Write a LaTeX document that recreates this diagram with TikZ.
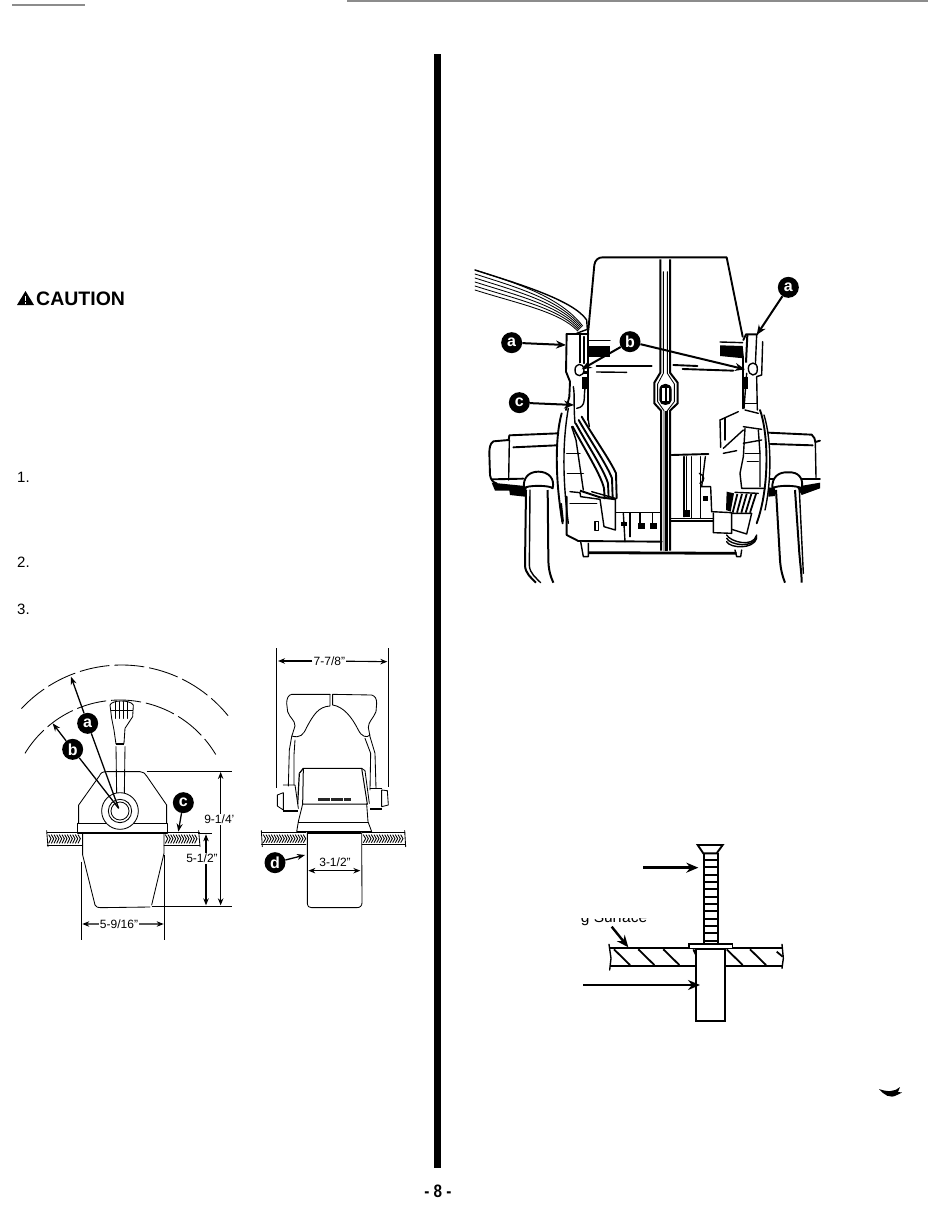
\documentclass[tikz,border=0pt]{standalone}
\usepackage{fontspec}
\setmainfont{Liberation Sans}
\usetikzlibrary{arrows.meta}
\tikzset{
  ln/.style={line width=1.4pt,line cap=round,line join=round},
  mid/.style={line width=1.9pt,line cap=round,line join=round},
  thn/.style={line width=.85pt,line cap=round,line join=round},
  hvy/.style={line width=2.6pt},
  callout/.style={circle,fill=black,text=white,inner sep=0pt,minimum size=21pt,font=\bfseries\fontsize{16}{16}\selectfont},
  lead/.style={line width=2pt,-{Stealth[length=10pt,width=8pt]}},
  leadplain/.style={line width=1.3pt},
  leadtip/.style={line width=1.3pt,-{Stealth[length=8pt,width=6pt]}},
  dimhalf/.style={line width=1.1pt,-{Stealth[length=7pt,width=5.5pt]}},
  dim/.style={line width=1.1pt,{Stealth[length=7pt,width=5.5pt]}-{Stealth[length=7pt,width=5.5pt]}},
  dimtxt/.style={fill=white,inner sep=1pt,font=\fontsize{12}{12}\selectfont},
  bigarrow/.style={line width=2.4pt,-{Stealth[length=12pt,width=10pt]}},
  arcdash/.style={line width=.85pt,dash pattern=on 30pt off 5pt},
  stepno/.style={font=\fontsize{15}{15}\selectfont,inner sep=0pt,anchor=west},
}
\begin{document}
\begin{tikzpicture}[x=1pt,y=-1pt]
\useasboundingbox (0,0) rectangle (950,1225);
\fill[white] (0,0) rectangle (950,1225);
% page furniture
\draw[line width=1.5pt,black!45] (12,5) -- (85,5);
\draw[line width=2pt,black!45] (347,1) -- (928,1);
\fill[black] (434,54) rectangle (441,1168);
\node[font=\bfseries\fontsize{18}{18}\selectfont,xscale=.85] (pg) at (438,1191) {- 8 -};
\fill[black] (879,1089) .. controls (887,1092) and (895,1092) .. (900,1087) -- (898,1092) -- (902,1092.5) -- (897,1095) .. controls (890,1099) and (884,1095) .. (879,1089) -- cycle;
% caution
\fill[black] (17,305) -- (25.5,291) -- (34,305) -- cycle;
\fill[white] (24.7,296) rectangle (26.3,301);
\fill[white] (24.7,302) rectangle (26.3,303.6);
\node[font=\bfseries\fontsize{19.5}{20}\selectfont,inner sep=0pt,anchor=west] (caution) at (36,299) {CAUTION};
\node[stepno] (s1) at (17,477) {1.};
\node[stepno] (s2) at (17,562) {2.};
\node[stepno] (s3) at (17,609) {3.};

%% ---------- upper right figure
\begin{scope}[shift={(460,240)},scale=1/3]
  % wires
  \foreach \d in {0,1,2,3,4,5}
    \draw[thn] (45,{90+\d*12}) .. controls (170,{130+\d*12}) and (300,{170+\d*9}) .. ({368-\d*3},{258+\d*3}) ;
  \draw[ln] (45,90) .. controls (170,130) and (340,180) .. (380,240) -- (382,268) -- (350,280);
  % housing
  \draw[mid] (385,270) -- (403,75) .. controls (405,60) and (415,52) .. (428,52) -- (800,52) -- (848,290);
  \draw[mid] (385,270) -- (385,540);
  \draw[ln] (385,540) -- (388,560);
  \draw[mid] (850,350) -- (850,505);
  % black pads
  \fill (385,318) rectangle (450,350);
  \fill (780,316) -- (848,318) -- (852,355) -- (780,348) -- cycle;
  \draw[ln] (385,302) -- (450,302); \draw[ln] (780,306) -- (848,308);
  % centre strip
  \draw[line width=2pt] (601,58) -- (601,398) -- (583,428) -- (583,490) -- (603,512) -- (603,932);
  \draw[line width=2pt] (630,58) -- (630,398) -- (653,428) -- (653,490) -- (630,512) -- (630,932);
  \draw[thn] (610,95) -- (610,400) -- (593,432) -- (593,485) -- (612,512) -- (612,932);
  \draw[thn] (622,95) -- (622,400) -- (643,432) -- (643,485) -- (622,512) -- (622,932);
  \draw[ln,fill=black] (600,450) .. controls (600,428) and (633,428) .. (633,450) -- (633,480) .. controls (633,497) and (600,497) .. (600,480) -- cycle;
  \fill[white] (606,445) rectangle (614,482);
  \fill[white] (620,445) rectangle (627,482);
  \draw[line width=2pt] (617,512) -- (617,932);
  % horizontal marks
  \draw[mid] (410,378) -- (575,378); \draw[mid] (640,375) -- (712,378);
  \draw[ln] (410,396) -- (500,397); \draw[mid] (668,387) -- (820,392);
  % left bracket
  \draw[mid] (320,282) -- (385,282);
  \draw[mid] (320,282) -- (318,395) -- (330,425) -- (328,470) -- (318,510);
  \draw[line width=2pt] (360,285) -- (360,368);
  \draw[ln] (372,290) -- (372,370);
  \draw[ln,fill=white] (345,390) .. controls (345,370) and (370,365) .. (372,390) .. controls (372,410) and (345,415) .. (345,390) -- cycle;
  \fill (365,412) rectangle (387,447);
  \fill (368,392) rectangle (385,402);
  \draw[ln] (340,440) .. controls (345,470) and (340,490) .. (345,550);
  \draw[ln] (375,445) .. controls (370,475) and (380,500) .. (350,505);
  % left cylinder
  \draw[mid] (305,520) .. controls (285,590) and (285,720) .. (308,850);
  \draw[ln] (325,505) .. controls (310,590) and (305,700) .. (325,850);
  \draw[hvy] (302,790) -- (308,845);
  \draw[ln] (320,640) -- (360,640); \draw[ln] (322,700) -- (370,700);
  \draw[ln] (335,560) -- (348,600) -- (370,750);
  % left loom
  \foreach \o in {0,1,2,3}
    \draw[mid] ({365-9*\o},{530+10*\o}) .. controls ({400-9*\o},{590+12*\o}) and ({450-9*\o},{660+15*\o}) .. ({468-12*\o},{700+15*\o}) -- ({470-12*\o},{775});
  % left knob
  \draw[mid] (295,580) -- (148,586) -- (146,600) -- (100,604) .. controls (90,610) and (88,625) .. (88,640) -- (90,705) .. controls (92,720) and (100,728) .. (110,730);
  \draw[mid] (160,622) -- (290,616);
  \draw[ln] (148,600) -- (146,720);
  \draw[mid] (96,718) -- (190,716);
  \fill (95,728) -- (195,738) -- (200,745) -- (195,770) -- (150,765) -- (148,752) -- (105,752) -- cycle;
  % left tube
  \draw[mid,fill=white] (192,745) .. controls (188,715) and (205,695) .. (235,695) .. controls (265,695) and (285,715) .. (278,745) .. controls (270,735) and (200,735) .. (192,745) -- cycle;
  \draw[line width=2pt] (198,750) -- (195,975) .. controls (195,1000) and (215,1015) .. (228,1028);
  \draw[ln] (210,750) -- (208,975) .. controls (208,1000) and (230,1015) .. (242,1028);
  \draw[line width=2pt] (263,750) -- (265,955) .. controls (265,990) and (272,1010) .. (280,1028);
  % left bottom
  \draw[mid] (320,770) -- (320,885) -- (355,903) -- (605,905);
  \draw[ln] (330,755) -- (360,758) -- (362,770) -- (420,778) -- (432,860) -- (466,870) -- (466,775) -- (395,755);
  \draw[line width=2pt] (360,752) -- (420,772) -- (468,778);
  \draw[ln] (405,845) rectangle (416,872); \draw[ln] (330,790) -- (410,790);
  \draw[ln] (468,818) -- (600,818); \draw[ln] (490,820) -- (495,905);
  \draw[ln] (510,820) -- (510,890); \draw[ln] (540,820) -- (540,850); \draw[ln] (578,820) -- (578,850);
  \fill (535,850) rectangle (555,866); \fill (570,850) rectangle (590,866);
  \fill (484,845) rectangle (502,858);
  \draw[ln,fill=white] (362,905) -- (370,950) -- (385,950) -- (385,910);
  \draw[line width=2.8pt] (385,938) -- (830,940);
  \draw[ln] (825,930) -- (830,950) -- (842,950) -- (845,930);
  % right bracket
  \draw[mid] (850,300) -- (858,283) -- (892,283);
  \draw[line width=2pt] (862,285) -- (858,368);
  \draw[ln] (890,285) -- (885,400); \draw[ln] (908,305) -- (905,405) -- (890,410);
  \draw[ln,fill=white] (865,385) .. controls (865,365) and (893,362) .. (892,388) .. controls (892,412) and (865,410) .. (865,385) -- cycle;
  \fill (853,410) rectangle (865,448);
  \draw[ln] (860,400) -- (852,505); \draw[ln] (890,412) -- (892,510);
  \draw[ln] (852,490) -- (890,490); \draw[ln] (855,510) -- (895,520);
  % right cylinder
  \draw[mid] (900,510) .. controls (925,580) and (930,740) .. (890,850);
  \draw[ln] (912,525) .. controls (935,600) and (935,720) .. (915,810);
  \draw[ln] (850,560) -- (905,568); \draw[ln] (850,610) -- (905,600); \draw[ln] (855,640) -- (900,640); \draw[ln] (862,665) -- (895,665);
  \draw[ln] (855,565) -- (850,650) -- (840,700) -- (845,745) -- (915,745);
  \draw[ln] (895,570) -- (900,640) -- (900,740);
  % right detail
  \draw[ln] (780,540) -- (835,515); \draw[ln] (780,540) -- (782,622);
  \draw[ln] (795,535) -- (795,600); \draw[ln] (790,625) -- (850,570); \draw[ln] (790,640) -- (830,632);
  \draw[mid] (635,645) -- (745,642);
  \draw[ln] (672,650) -- (672,830); \draw[ln] (695,650) -- (695,835); \draw[ln] (680,650) -- (680,810);
  \draw[ln] (722,650) -- (722,835); \draw[ln] (736,650) -- (725,740);
  \fill (675,810) rectangle (690,830);
  \draw[ln] (718,700) .. controls (735,705) and (735,725) .. (720,730);
  \draw[ln] (722,740) -- (752,740) -- (755,815); \fill (730,768) rectangle (745,782);
  \draw[ln] (630,835) -- (760,835); \draw[ln] (630,843) -- (760,843);
  \draw[ln] (755,815) -- (815,818) -- (815,880) -- (760,878) -- (760,820);
  \draw[ln] (815,820) -- (875,820) -- (860,882) -- (815,868);
  \fill (800,755) -- (822,760) -- (812,815) -- (798,810) -- cycle;
  \foreach \o in {0,1,2,3,4}
    \draw[line width=1.8pt] ({832+\o*14},762) -- ({818+\o*13},818);
  \draw[ln] (825,757) -- (895,760);
  \foreach \o in {0,1,2}
    \draw[ln] (800,{885+\o*10}) .. controls (810,{905+\o*10}) and (880,{925+\o*2}) .. (890,{885+\o*5});
  % right knob
  \draw[mid] (925,578) -- (1055,584) .. controls (1062,590) and (1066,598) .. (1066,606) -- (1080,602);
  \draw[mid] (932,612) -- (1058,616); \draw[ln] (1066,606) -- (1068,712);
  \draw[mid] (930,716) -- (1080,716);
  \fill (925,742) -- (945,745) -- (945,768) -- (925,770) -- cycle;
  \fill (1010,740) -- (1080,728) -- (1080,745) -- (1025,765) -- cycle;
  % right tube
  \draw[mid,fill=white] (937,745) .. controls (935,712) and (955,695) .. (985,697) .. controls (1015,695) and (1032,715) .. (1025,745) .. controls (1010,735) and (950,735) .. (937,745) -- cycle;
  \draw[line width=2pt] (948,750) -- (960,960) .. controls (962,990) and (968,1010) .. (975,1028);
  \draw[line width=2pt] (1005,750) -- (1018,940) .. controls (1022,985) and (1025,1005) .. (1025,1028);
  \draw[ln] (1018,750) -- (1030,1000);
  % callouts
  \node[callout] (al) at (155,308) {a};
  \node[callout] (ar) at (985,142) {a};
  \node[callout] (bb) at (510,305) {b};
  \node[callout] (cc) at (178,488) {c};
  \coordinate (alt) at (318,315);
  \coordinate (art) at (890,285);
  \coordinate (blt) at (365,388);
  \coordinate (brt) at (855,388);
  \coordinate (cct) at (342,495);
  \draw[lead] (al) -- (alt);
  \draw[lead] (ar) -- (art);
  \draw[lead] (bb) -- (blt);
  \draw[lead] (bb) -- (brt);
  \draw[lead] (cc) -- (cct);
\end{scope}

%% ---------- left figure
\begin{scope}[shift={(10,640)},scale=1/3]
  \draw[arcdash] plot[domain=137:39,samples=60] ({335+411*cos(\x)},{486-411*sin(\x)});
  \draw[arcdash] plot[domain=148.6:30.7,samples=60] ({330+334*cos(\x)},{514-334*sin(\x)});
  % handle
  \draw[thn] (300,195) .. controls (305,180) and (360,178) .. (370,195) -- (368,230) -- (345,265) -- (342,310) -- (318,312) -- (312,270) -- (305,235) -- cycle;
  \foreach \x in {315,327,340,352} \draw[thn] (\x,185) -- (\x,235);
  \draw[thn] (303,212) -- (368,212);
  \draw[thn] (318,320) -- (320,462); \draw[thn] (345,320) -- (343,460);
  \draw[line width=1.4pt] (318,312) -- (342,312);
  % body
  \draw[thn] (206,550) -- (206,495) -- (268,408) .. controls (272,398) and (278,395) .. (290,395) -- (390,395) .. controls (400,395) and (405,400) .. (410,408) -- (470,495) -- (470,550);
  \draw[thn] (203,550) -- (472,550) -- (472,580); \draw[thn] (203,550) -- (203,580);
  \draw[line width=1.8pt] (205,580) -- (470,580);
  \draw[thn,fill=white] (330,513) circle[radius=55];
  \draw[thn] (330,513) circle[radius=35];
  \draw[thn] (330,513) circle[radius=27];
  \draw[thn] (218,582) -- (218,645) -- (255,795) .. controls (258,802) and (265,803) .. (272,803) -- (420,801);
  \draw[thn] (462,582) -- (462,640) -- (425,795);
  % surfaces
  \draw[thn] (112,578) -- (215,578); \draw[thn] (112,615) -- (215,615);
  \draw[thn] (462,578) -- (568,578); \draw[thn] (462,615) -- (568,615);
  \draw[thn] (110,572) -- (114,620); \draw[thn] (566,572) -- (570,620);
  \foreach \x in {116,124,...,206} \draw[line width=.9pt] (\x,584) -- (\x+7,596) -- (\x,610);
  \foreach \x in {466,474,...,560} \draw[line width=.9pt] (\x,584) -- (\x+7,596) -- (\x,610);
  % dimensions
  \coordinate (d1a) at (410,393); \coordinate (d1b) at (665,393);
  \coordinate (d2a) at (425,798); \coordinate (d2b) at (665,798);
  \draw[line width=1pt] (d1a) -- (d1b);
  \draw[line width=1pt] (d2a) -- (d2b);
  \draw[line width=1pt] (565,580) -- (605,580);
  \draw[line width=1pt] (215,665) -- (215,900);
  \draw[line width=1pt] (463,645) -- (463,900);
  \node[dimtxt] (n914) at (628,538) {9-1/4'};
  \node[dimtxt] (n512) at (576,655) {5-1/2"};
  \node[dimtxt] (n5916) at (327,852) {5-9/16"};
  \coordinate (e1) at (632,396); \coordinate (e2) at (632,796);
  \coordinate (f1) at (588,583); \coordinate (f2) at (588,796);
  \coordinate (g1) at (217,852); \coordinate (g2) at (461,852);
  \draw[dimhalf] (n914.north -| e1) -- (e1);
  \draw[dimhalf] (n914.south -| e2) -- (e2);
  \draw[dimhalf] (n512.north -| f1) -- (f1);
  \draw[dimhalf] (n512.south -| f2) -- (f2);
  \draw[dimhalf] (n5916) -- (g1);
  \draw[dimhalf] (n5916) -- (g2);
  % callouts
  \node[callout] (fa) at (233,250) {a};
  \node[callout] (fb) at (188,328) {b};
  \node[callout] (fc) at (520,488) {c};
  \coordinate (pv) at (326,505);
  \coordinate (fat) at (183,110);
  \coordinate (fbt) at (128,250);
  \coordinate (fct) at (505,575);
  \draw[leadtip] (fa) -- (fat);
  \draw[leadtip] (fb) -- (fbt);
  \draw[leadplain] (fa) -- (pv);
  \draw[leadplain] (fb) -- (pv);
  \draw[leadtip] (fc) -- (fct);
\end{scope}

%% ---------- right small figure
\begin{scope}[shift={(250,640)},scale=1/3]
  \draw[line width=1.1pt] (80,25) -- (80,445);
  \draw[line width=1.1pt] (415,25) -- (415,440);
  \node[dimtxt] (n778) at (238,63) {7-7/8"};
  \coordinate (h1) at (84,63); \coordinate (h2) at (412,65);
  \draw[dimhalf] (n778) -- (h1);
  \draw[dimhalf] (n778) -- (h2);
  % handles
  \draw[thn] (240,163) -- (125,163) .. controls (115,165) and (110,175) .. (110,190) -- (113,215) .. controls (120,235) and (135,240) .. (135,258) -- (125,290) -- (118,330) -- (115,438);
  \draw[thn] (240,163) -- (240,198) .. controls (205,200) and (190,225) .. (170,262) .. controls (160,285) and (150,295) .. (125,288);
  \draw[thn] (135,300) -- (132,345) -- (132,435);
  \draw[thn] (248,163) -- (365,165) .. controls (375,168) and (380,175) .. (380,190) -- (378,215) .. controls (370,235) and (355,245) .. (355,262) -- (360,290) -- (375,340) -- (378,445);
  \draw[thn] (248,163) -- (248,195) .. controls (280,200) and (305,230) .. (325,270) .. controls (335,290) and (350,295) .. (360,285);
  \draw[thn] (345,295) -- (362,340) -- (360,450);
  % pivots
  \draw[thn] (100,458) -- (82,465) -- (82,498) -- (100,510) -- cycle;
  \draw[thn] (100,435) -- (135,435) -- (145,505);
  \draw[line width=1.8pt] (100,512) -- (145,512);
  \draw[thn] (395,450) -- (412,452) -- (415,495) -- (395,500) -- cycle;
  \draw[thn] (360,445) -- (395,445);
  \draw[line width=1.8pt] (360,507) -- (395,507);
  % box
  \draw[line width=1pt] (160,385) -- (335,385) -- (352,492) -- (158,492) -- cycle;
  \draw[line width=1.2pt] (148,400) -- (143,492);
  \draw[line width=1.2pt] (148,400) -- (160,385);
  \draw[thn] (335,385) -- (345,392) -- (358,490);
  \draw[line width=3.4pt,black!85,dash pattern=on 12pt off .8pt] (205,478) -- (302,478);
  \draw[thn] (158,492) -- (145,545) -- (140,575) -- (365,575) -- (354,545) -- (350,492);
  \draw[thn] (145,548) -- (354,548);
  % stem
  \draw[line width=1.8pt] (172,578) -- (332,578);
  \draw[thn] (172,578) -- (172,790) .. controls (173,800) and (178,803) .. (185,803) -- (320,803) .. controls (330,803) and (336,798) .. (336,788) -- (335,578);
  % surfaces
  \draw[thn] (35,578) -- (168,578); \draw[thn] (35,612) -- (168,612);
  \draw[thn] (337,578) -- (465,578); \draw[thn] (337,612) -- (465,612);
  \draw[thn] (34,572) -- (37,620); \draw[thn] (464,572) -- (467,620);
  \foreach \x in {40,48,...,160} \draw[line width=.9pt] (\x,584) -- (\x+7,596) -- (\x,608);
  \foreach \x in {340,348,...,456} \draw[line width=.9pt] (\x,584) -- (\x+7,596) -- (\x,608);
  % dims
  \coordinate (m1) at (175,692); \coordinate (m2) at (331,692);
  \draw[dim] (m1) -- (m2);
  \node[inner sep=1pt,font=\fontsize{12}{12}\selectfont] (n312) at (255,667) {3-1/2"};
  \node[callout] (fd) at (75,668) {d};
  \coordinate (fdt) at (165,645);
  \draw[leadtip] (fd) -- (fdt);
\end{scope}

%% ---------- fastener figure
\begin{scope}[shift={(570,830)},scale=1/3]
  \draw[line width=1.9pt] (383,45) -- (458,45) -- (440,70) -- (400,70) -- cycle;
  \draw[line width=1.7pt] (402,70) -- (402,340); \draw[line width=1.7pt] (443,70) -- (443,340);
  \foreach \y in {90,112,...,334} \draw[line width=1.7pt] (402,\y) -- (443,\y);
  \draw[line width=2pt] (117,355) -- (640,355);
  \draw[line width=1.8pt] (120,407) -- (380,407); \draw[line width=1.8pt] (468,407) -- (640,407);
  \draw[ln] (117,343) -- (123,385) -- (119,420);
  \draw[ln] (636,343) -- (640,385) -- (636,415);
  \foreach \x in {132,205,280,470,540} \draw[line width=1.8pt] (\x,358) -- (\x+48,405);
  \draw[line width=1.8pt] (620,365) -- (638,380);
  \draw[line width=1.8pt] (370,358) -- (378,375);
  \draw[line width=1.5pt,fill=white] (357,342) rectangle (488,356);
  \draw[line width=1.8pt,fill=white] (378,358) rectangle (465,572);
  \draw[line width=2.8pt] (465,358) -- (465,572);
  \coordinate (p1a) at (220,113); \coordinate (p1b) at (385,113);
  \coordinate (p2a) at (40,465); \coordinate (p2b) at (390,465);
  \coordinate (p3a) at (125,290); \coordinate (p3b) at (175,352);
  \draw[bigarrow] (p1a) -- (p1b);
  \draw[bigarrow] (p2a) -- (p2b);
  \draw[bigarrow] (p3a) -- (p3b);
  \begin{scope}
    \clip (25,264) rectangle (250,300);
    \node[font=\fontsize{15.5}{16}\selectfont,inner sep=0pt,anchor=base west] (surf) at (32,276) {g Surface};
  \end{scope}
\end{scope}
\end{tikzpicture}
\end{document}
